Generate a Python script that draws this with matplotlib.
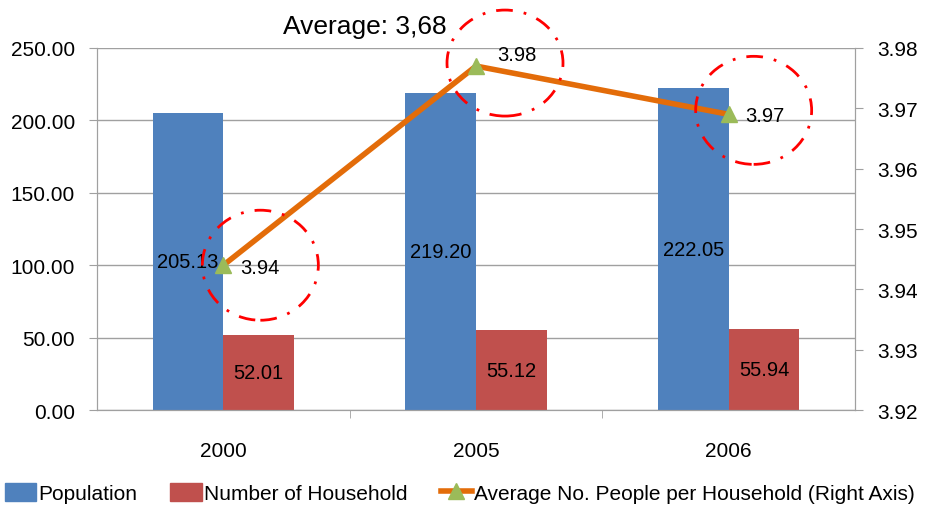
import matplotlib
matplotlib.use("Agg")
import matplotlib.pyplot as plt
import numpy as np
from matplotlib.patches import Ellipse, Patch
from matplotlib.lines import Line2D

plt.rcParams["font.family"] = ["Liberation Sans", "DejaVu Sans"]

years = ["2000", "2005", "2006"]
population = [205.13, 219.20, 222.05]
households = [52.01, 55.12, 55.94]
avg_people = [3.944, 3.977, 3.969]
avg_labels = ["3.94", "3.98", "3.97"]
average_note = "Average: 3,68"

blue = "#4F81BD"
red = "#C0504D"
orange = "#E36C09"
green = "#9BBB59"
grid = "#A0A0A0"

fig = plt.figure(figsize=(9.25, 5.1), dpi=100)
ax = fig.add_axes([0.1049, 0.194, 0.8194, 0.710])
ax2 = ax.twinx()

x = np.arange(len(years))
w = 0.28
b1 = ax.bar(x - w / 2, population, w, color=blue, zorder=2)
b2 = ax.bar(x + w / 2, households, w, color=red, zorder=2)
for rect, v in zip(list(b1) + list(b2), population + households):
    ax.text(rect.get_x() + rect.get_width() / 2, v / 2, f"{v:.2f}",
            ha="center", va="center", fontsize=14.5, zorder=5)

ax.set_xlim(-0.5, 2.5)
ax.set_ylim(0, 250)
ax.set_yticks(np.arange(0, 251, 50))
ax.set_yticklabels([f"{v:.2f}" for v in np.arange(0, 251, 50)], fontsize=15)
ax.yaxis.grid(True, color=grid, lw=1)
ax.set_axisbelow(True)
ax.set_xticks(x)
ax.set_xticklabels(years, fontsize=15)
ax.set_xticks([0.5, 1.5], minor=True)
ax.tick_params(axis="x", which="major", length=0, pad=22)
ax.tick_params(axis="x", which="minor", length=6, color=grid, direction="out")
ax.tick_params(axis="y", length=6, color=grid, pad=10)

ax2.plot(x, avg_people, color=orange, lw=4, marker="^", markersize=12,
         markerfacecolor=green, markeredgecolor=green, zorder=4)
ax2.set_ylim(3.92, 3.98)
ax2.set_yticks(np.round(np.arange(3.92, 3.981, 0.01), 2))
ax2.set_yticklabels([f"{v:.2f}" for v in np.arange(3.92, 3.981, 0.01)], fontsize=15)
ax2.tick_params(axis="y", length=6, color=grid, pad=10)

for a in (ax, ax2):
    for s in a.spines.values():
        s.set_color(grid)
    a.spines["top"].set_visible(False)

# value labels next to the markers (offsets in points)
offsets = [(12, -2), (15, 8), (12, -1)]
for xi, v, lab, off in zip(x, avg_people, avg_labels, offsets):
    ax2.annotate(lab, (xi, v), xytext=off, textcoords="offset points",
                 ha="left", va="center", fontsize=14.5, zorder=6)

# dash-dot highlight circles around the points (pixel sizes converted to data units)
px_x = 758 / 3.0
px_y = 362 / 0.06
circ = [(37, 0, 58, 55), (29, -3, 58, 53), (25, -4, 58, 54)]
for xi, v, (dx, dy, rx, ry) in zip(x, avg_people, circ):
    e = Ellipse((xi + dx / px_x, v - dy / px_y), 2 * rx / px_x, 2 * ry / px_y,
                transform=ax2.transData, fill=False, edgecolor="red", lw=2,
                linestyle=(0, (6, 4, 1, 4)), clip_on=False, zorder=7)
    ax2.add_patch(e)

fig.text(283 / 925, 1 - 27 / 510, average_note, fontsize=19, va="center", ha="left")

handles = [Patch(color=blue), Patch(color=red),
           Line2D([], [], color=orange, lw=4, marker="^", markersize=12,
                  markerfacecolor=green, markeredgecolor=green)]
fig.legend(handles, ["Population", "Number of Household",
                     "Average No. People per Household (Right Axis)"],
           loc="center", bbox_to_anchor=(0.497, 0.031), ncol=3, frameon=False,
           fontsize=15, handlelength=1.5, handleheight=0.9, handletextpad=0.1,
           columnspacing=1.6, borderpad=0, borderaxespad=0)

fig.savefig("out.png", dpi=100)
